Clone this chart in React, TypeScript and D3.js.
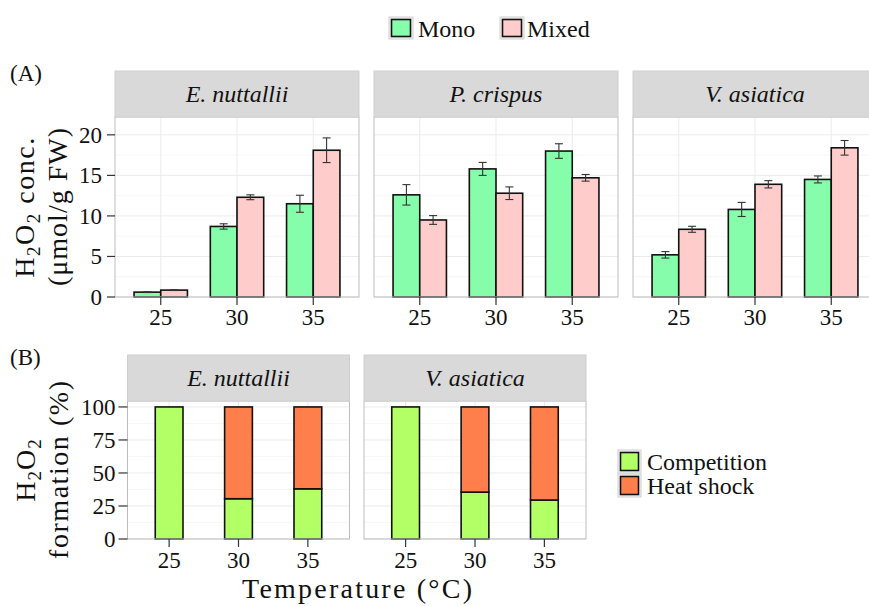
import React from "react";
import * as d3 from "d3";

// ---------- DATA ----------
const temperatures = ["25", "30", "35"];
const speciesA = ["E. nuttallii", "P. crispus", "V. asiatica"];
// H2O2 concentration (µmol/g FW), per species, per temperature
const monoValues = [
  [0.6, 8.7, 11.5],
  [12.6, 15.8, 18.0],
  [5.2, 10.8, 14.5],
];
const monoErrors = [
  [0.05, 0.33, 1.05],
  [1.26, 0.8, 0.9],
  [0.4, 0.87, 0.43],
];
const mixedValues = [
  [0.85, 12.3, 18.1],
  [9.5, 12.8, 14.7],
  [8.35, 13.9, 18.4],
];
const mixedErrors = [
  [0.05, 0.3, 1.52],
  [0.54, 0.78, 0.41],
  [0.37, 0.45, 0.9],
];
const treatments = ["Mono", "Mixed"];
const yTicksA = [0, 5, 10, 15, 20];

const speciesB = ["E. nuttallii", "V. asiatica"];
// H2O2 formation (%)
const competitionPct = [
  [100, 30.5, 38],
  [100, 35.5, 29.5],
];
const heatShockPct = [
  [0, 69.5, 62],
  [0, 64.5, 70.5],
];
const causes = ["Competition", "Heat shock"];
const yTicksB = [0, 25, 50, 75, 100];

// ---------- STYLE ----------
const W = 869;
const H = 606;
const FONT = '"Liberation Serif", "DejaVu Serif", serif';
const TXT = { fontFamily: FONT, fill: "#111" } as any;
const colMono = "#85FDAB";
const colMixed = "#FFCCCC";
const colComp = "#B3FF66";
const colHeat = "#FF7F4C";
const stripFill = "#D9D9D9";
const borderCol = "#BDBDBD";
const gridMajor = "#EBEBEB";
const gridMinor = "#F7F7F7";

// Layout
const A = { top: 117, bottom: 297, stripTop: 71, width: 244, lefts: [115, 374, 633], yMax: 22.2 };
const B = { top: 401, bottom: 539, stripTop: 355, width: 222, lefts: [127.5, 364], yMax: 104.5 };

function Strip({ x, y, w, h, label }: any) {
  return (
    <g>
      <rect x={x} y={y} width={w} height={h} fill={stripFill} stroke="#CFCFCF" strokeWidth={1} />
      <text x={x + w / 2} y={y + h / 2 + 8} textAnchor="middle" fontSize={24} fontStyle="italic" style={TXT}>
        {label}
      </text>
    </g>
  );
}

function PanelA({ idx }: { idx: number }) {
  const x0 = A.lefts[idx];
  const x = d3.scalePoint<string>().domain(temperatures).range([x0, x0 + A.width]).padding(0.6);
  const y = d3.scaleLinear().domain([0, A.yMax]).range([A.bottom, A.top]);
  const step = x.step();
  const dodge = d3.scaleBand<string>().domain(treatments).range([-0.35 * step, 0.35 * step]);
  const bw = dodge.bandwidth();
  const minor = d3.range(2.5, A.yMax, 5);
  const series = [
    { name: "Mono", vals: monoValues[idx], errs: monoErrors[idx], col: colMono },
    { name: "Mixed", vals: mixedValues[idx], errs: mixedErrors[idx], col: colMixed },
  ];
  return (
    <g>
      <rect x={x0} y={A.top} width={A.width} height={A.bottom - A.top} fill="#fff" />
      {minor.map((v) => (
        <line key={"mi" + v} x1={x0} x2={x0 + A.width} y1={y(v)} y2={y(v)} stroke={gridMinor} strokeWidth={1} />
      ))}
      {yTicksA.map((v) => (
        <line key={"ma" + v} x1={x0} x2={x0 + A.width} y1={y(v)} y2={y(v)} stroke={gridMajor} strokeWidth={1} />
      ))}
      {temperatures.map((t) => (
        <line key={"vx" + t} x1={x(t)} x2={x(t)} y1={A.top} y2={A.bottom} stroke={gridMajor} strokeWidth={1} />
      ))}
      {series.map((s) =>
        temperatures.map((t, i) => {
          const bx = (x(t) as number) + (dodge(s.name) as number);
          return (
            <rect key={s.name + t} x={bx} y={y(s.vals[i])} width={bw} height={y(0) - y(s.vals[i])} fill={s.col} stroke="#111" strokeWidth={1.6} />
          );
        })
      )}
      {series.map((s) =>
        temperatures.map((t, i) => {
          const cx = (x(t) as number) + (dodge(s.name) as number) + bw / 2;
          const hi = y(s.vals[i] + s.errs[i]);
          const lo = y(s.vals[i] - s.errs[i]);
          return (
            <g key={"e" + s.name + t} stroke="#333" strokeWidth={1.1}>
              <line x1={cx} x2={cx} y1={hi} y2={lo} />
              <line x1={cx - 4} x2={cx + 4} y1={hi} y2={hi} />
              <line x1={cx - 4} x2={cx + 4} y1={lo} y2={lo} />
            </g>
          );
        })
      )}
      <rect x={x0} y={A.top} width={A.width} height={A.bottom - A.top} fill="none" stroke={borderCol} strokeWidth={1} />
      <Strip x={x0} y={A.stripTop} w={A.width} h={A.top - A.stripTop} label={speciesA[idx]} />
      {temperatures.map((t) => (
        <g key={"xt" + t}>
          <line x1={x(t)} x2={x(t)} y1={A.bottom} y2={A.bottom + 8} stroke="#333" strokeWidth={1.2} />
          <text x={x(t)} y={A.bottom + 28} textAnchor="middle" fontSize={23} style={TXT}>
            {t}
          </text>
        </g>
      ))}
      {idx === 0 &&
        yTicksA.map((v) => (
          <g key={"yt" + v}>
            <line x1={x0 - 8} x2={x0} y1={y(v)} y2={y(v)} stroke="#333" strokeWidth={1.2} />
            <text x={x0 - 13} y={y(v) + 8} textAnchor="end" fontSize={23} style={TXT}>
              {v}
            </text>
          </g>
        ))}
    </g>
  );
}

function PanelB({ idx }: { idx: number }) {
  const x0 = B.lefts[idx];
  const x = d3.scalePoint<string>().domain(temperatures).range([x0, x0 + B.width]).padding(0.6);
  const y = d3.scaleLinear().domain([0, B.yMax]).range([B.bottom, B.top]);
  const bw = x.step() * 0.4;
  const minor = d3.range(12.5, B.yMax, 25);
  const stack = d3
    .stack<number>()
    .keys([0, 1] as any)
    .value((i: number, k: any) => (k === 0 ? competitionPct[idx][i] : heatShockPct[idx][i]))(
    [0, 1, 2]
  );
  const cols = [colComp, colHeat];
  return (
    <g>
      <rect x={x0} y={B.top} width={B.width} height={B.bottom - B.top} fill="#fff" />
      {minor.map((v) => (
        <line key={"mi" + v} x1={x0} x2={x0 + B.width} y1={y(v)} y2={y(v)} stroke={gridMinor} strokeWidth={1} />
      ))}
      {yTicksB.map((v) => (
        <line key={"ma" + v} x1={x0} x2={x0 + B.width} y1={y(v)} y2={y(v)} stroke={gridMajor} strokeWidth={1} />
      ))}
      {temperatures.map((t) => (
        <line key={"vx" + t} x1={x(t)} x2={x(t)} y1={B.top} y2={B.bottom} stroke={gridMajor} strokeWidth={1} />
      ))}
      {stack.map((layer, li) =>
        layer.map((d, i) => {
          const h = y(d[0]) - y(d[1]);
          if (h <= 0) return null;
          return (
            <rect
              key={li + "-" + i}
              x={(x(temperatures[i]) as number) - bw / 2}
              y={y(d[1])}
              width={bw}
              height={h}
              fill={cols[li]}
              stroke="#111"
              strokeWidth={1.6}
            />
          );
        })
      )}
      <rect x={x0} y={B.top} width={B.width} height={B.bottom - B.top} fill="none" stroke={borderCol} strokeWidth={1} />
      <Strip x={x0} y={B.stripTop} w={B.width} h={B.top - B.stripTop} label={speciesB[idx]} />
      {temperatures.map((t) => (
        <g key={"xt" + t}>
          <line x1={x(t)} x2={x(t)} y1={B.bottom} y2={B.bottom + 8} stroke="#333" strokeWidth={1.2} />
          <text x={x(t)} y={B.bottom + 29} textAnchor="middle" fontSize={23} style={TXT}>
            {t}
          </text>
        </g>
      ))}
      {idx === 0 &&
        yTicksB.map((v) => (
          <g key={"yt" + v}>
            <line x1={x0 - 9} x2={x0} y1={y(v)} y2={y(v)} stroke="#333" strokeWidth={1.2} />
            <text x={x0 - 12} y={y(v) + 8} textAnchor="end" fontSize={23} style={TXT}>
              {v}
            </text>
          </g>
        ))}
    </g>
  );
}

function LegendKey({ x, y, w, h, fill }: any) {
  return (
    <g>
      <rect x={x} y={y} width={w} height={h} fill="#F2F2F2" stroke="#D0D0D0" strokeWidth={1} />
      <rect x={x + 2.5} y={y + 2.5} width={w - 5} height={h - 5} fill={fill} stroke="#111" strokeWidth={1.6} />
    </g>
  );
}

export default function App() {
  const midA = (A.top + A.bottom) / 2;
  const midB = (B.top + B.bottom) / 2;
  const sub = { fontSize: 19 } as any;
  return (
    <svg width={W} height={H} style={{ position: "absolute", left: 0, top: 0, background: "#fff" }}>
      <rect width={W} height={H} fill="#fff" />
      {/* Top legend */}
      <LegendKey x={389} y={17} w={24} h={22} fill={colMono} />
      <text x={418} y={37} fontSize={24} style={TXT}>{treatments[0]}</text>
      <LegendKey x={500} y={17} w={24} h={22} fill={colMixed} />
      <text x={527} y={37} fontSize={24} style={TXT}>{treatments[1]}</text>

      {/* Panel labels */}
      <text x={10} y={81} fontSize={23} style={TXT}>(A)</text>
      <text x={10} y={365} fontSize={23} style={TXT}>(B)</text>

      {/* Y titles A */}
      <text transform={`translate(34,${midA}) rotate(-90)`} textAnchor="middle" fontSize={28} style={TXT} letterSpacing={1.5}>
        H<tspan dy={6} {...sub}>2</tspan>
        <tspan dy={-6}>O</tspan>
        <tspan dy={6} {...sub}>2</tspan>
        <tspan dy={-6}> conc.</tspan>
      </text>
      <text transform={`translate(67,${midA}) rotate(-90)`} textAnchor="middle" fontSize={28} style={TXT} textLength={158} lengthAdjust="spacing">
        (μmol/g FW)
      </text>

      {/* Y titles B */}
      <text transform={`translate(35,${midB}) rotate(-90)`} textAnchor="middle" fontSize={28} style={TXT} letterSpacing={1}>
        H<tspan dy={6} {...sub}>2</tspan>
        <tspan dy={-6}>O</tspan>
        <tspan dy={6} {...sub}>2</tspan>
      </text>
      <text transform={`translate(68,${midB}) rotate(-90)`} textAnchor="middle" fontSize={28} style={TXT} textLength={178} lengthAdjust="spacing">
        formation (%)
      </text>

      {speciesA.map((_, i) => (
        <PanelA key={"A" + i} idx={i} />
      ))}
      {speciesB.map((_, i) => (
        <PanelB key={"B" + i} idx={i} />
      ))}

      {/* X title */}
      <text x={357} y={598} textAnchor="middle" fontSize={28} style={TXT} textLength={230} lengthAdjust="spacing">
        Temperature (°C)
      </text>

      {/* Bottom legend */}
      <LegendKey x={618} y={450} w={23} h={23} fill={colComp} />
      <text x={647} y={470} fontSize={24} style={TXT}>{causes[0]}</text>
      <LegendKey x={618} y={474} w={23} h={23} fill={colHeat} />
      <text x={647} y={494} fontSize={24} style={TXT}>{causes[1]}</text>
    </svg>
  );
}
